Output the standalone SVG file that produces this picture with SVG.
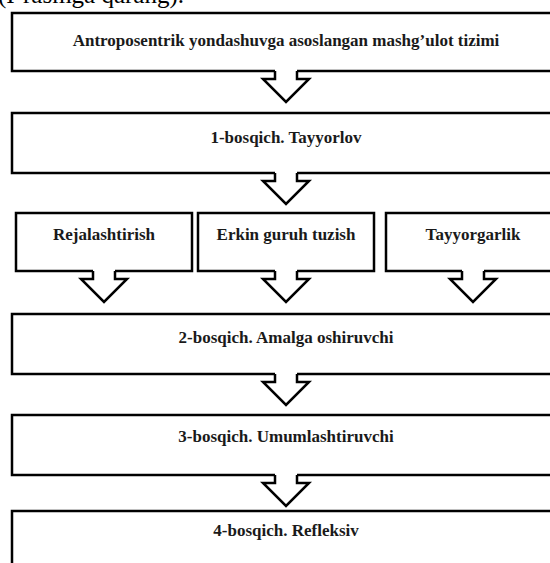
<svg xmlns="http://www.w3.org/2000/svg" width="550" height="563" viewBox="0 0 550 563">
<style>
.box{fill:#fff;stroke:#000;stroke-width:2.5}
.lbl{font-family:"Liberation Serif","Times New Roman",serif;font-weight:bold;font-size:17px;fill:#1a1a1a;text-anchor:middle}
.cap{font-family:"Liberation Serif","Times New Roman",serif;font-size:25px;fill:#000}
.af{fill:#fff;stroke:none}
.as{fill:none;stroke:#000;stroke-width:2.5;stroke-linejoin:miter}
</style>
<defs>
<g id="arr">
<polygon class="af" points="-11,-3 11,-3 11,8 23,8 0,31 -23,8 -11,8"/>
<polyline class="as" points="-11,0 -11,8 -23,8 0,31 23,8 11,8 11,0"/>
</g>
</defs>
<rect width="550" height="563" fill="#fff"/>
<text class="cap" x="-2" y="3">(I-rasmga qarang).</text>
<g id="n1"><rect class="box" x="12" y="13" width="550" height="58"/><text class="lbl" x="286" y="45.5">Antroposentrik yondashuvga asoslangan mashg’ulot tizimi</text></g>
<g id="n2"><rect class="box" x="12" y="113" width="550" height="60"/><text class="lbl" x="286" y="143">1-bosqich. Tayyorlov</text></g>
<g id="n3a"><rect class="box" x="16" y="213" width="176" height="58"/><text class="lbl" x="104" y="239.5">Rejalashtirish</text></g>
<g id="n3b"><rect class="box" x="198" y="213" width="176" height="58"/><text class="lbl" x="286" y="239.5">Erkin guruh tuzish</text></g>
<g id="n3c"><rect class="box" x="386" y="213" width="176" height="58"/><text class="lbl" x="473" y="239.5">Tayyorgarlik</text></g>
<g id="n4"><rect class="box" x="12" y="314" width="550" height="60"/><text class="lbl" x="286" y="343">2-bosqich. Amalga oshiruvchi</text></g>
<g id="n5"><rect class="box" x="12" y="415" width="550" height="60"/><text class="lbl" x="286" y="442">3-bosqich. Umumlashtiruvchi</text></g>
<g id="n6"><rect class="box" x="12" y="511" width="550" height="70"/><text class="lbl" x="286" y="536">4-bosqich. Refleksiv</text></g>
<g id="connectors">
<use href="#arr" x="286" y="71"/>
<use href="#arr" x="286" y="173"/>
<use href="#arr" x="104" y="271"/>
<use href="#arr" x="286" y="271"/>
<use href="#arr" x="473" y="271"/>
<use href="#arr" x="286" y="374"/>
<use href="#arr" x="286" y="475"/>
</g>
</svg>
